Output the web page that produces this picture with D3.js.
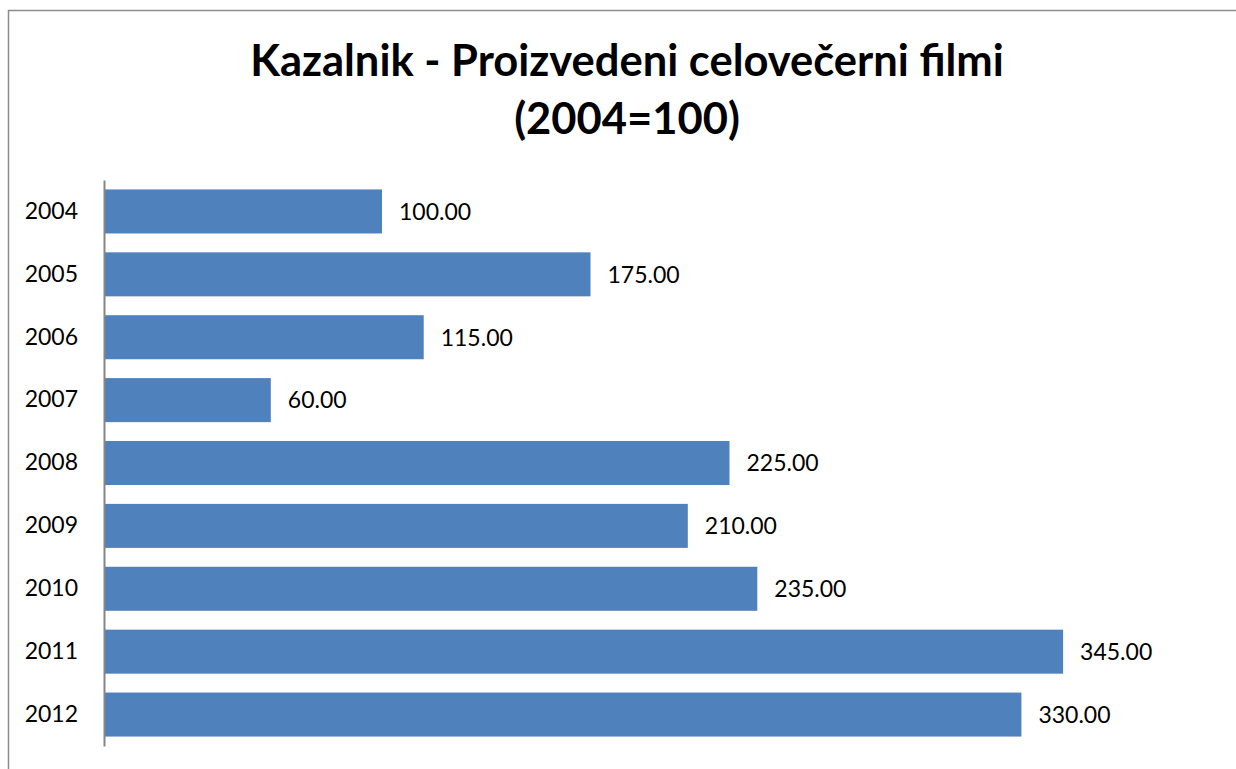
<!DOCTYPE html>
<html>
<head>
<meta charset="utf-8">
<script src="https://cdn.jsdelivr.net/npm/d3@7"></script>
<style>
  body { margin: 0; background: #fff; }
  svg { display: block; }
</style>
</head>
<body>
<svg width="1236" height="769"></svg>
<script>
// data
var years = ["2004", "2005", "2006", "2007", "2008", "2009", "2010", "2011", "2012"];
var values = [100, 175, 115, 60, 225, 210, 235, 345, 330];
var titleLines = ["Kazalnik - Proizvedeni celovečerni filmi", "(2004=100)"];

var svg = d3.select("svg");
var font = "Lato, 'Open Sans', sans-serif";

// frame (only left & top edges show in the crop)
svg.append("path")
  .attr("d", "M8.5,769 V10.5 H1236")
  .attr("fill", "none")
  .attr("stroke", "#8c8c8c")
  .attr("stroke-width", 1.5);

// title
svg.append("g")
  .selectAll("text")
  .data(titleLines)
  .enter().append("text")
  .attr("x", 627)
  .attr("y", function(d, i) { return 76 + i * 58; })
  .attr("text-anchor", "middle")
  .attr("font-family", font)
  .attr("font-weight", "bold")
  .attr("font-size", 43.5)
  .attr("fill", "#000")
  .text(function(d) { return d; });

var x = d3.scaleLinear().domain([0, 100]).range([104, 382]);
var y = d3.scaleBand().domain(years).range([180, 746]).paddingInner(0.3).paddingOuter(0.15);

var data = years.map(function(yr, i) { return {year: yr, value: values[i]}; });

// bars
svg.append("g")
  .selectAll("rect")
  .data(data)
  .enter().append("rect")
  .attr("x", x(0))
  .attr("y", function(d) { return y(d.year); })
  .attr("width", function(d) { return x(d.value) - x(0); })
  .attr("height", y.bandwidth())
  .attr("fill", "#4f81bd");

// value labels
svg.append("g")
  .selectAll("text")
  .data(data)
  .enter().append("text")
  .attr("x", function(d) { return x(d.value) + 17; })
  .attr("y", function(d) { return y(d.year) + y.bandwidth() / 2; })
  .attr("dy", "0.36em")
  .attr("font-family", font)
  .attr("font-size", 23)
  .attr("fill", "#000")
  .text(function(d) { return d.value.toFixed(2); });

// category axis
var yAxis = svg.append("g")
  .attr("transform", "translate(104,0)")
  .call(d3.axisLeft(y).tickSize(0).tickPadding(26));
yAxis.select(".domain")
  .attr("stroke", "#868686")
  .attr("stroke-width", 2);
yAxis.selectAll("text")
  .attr("font-family", font)
  .attr("font-size", 23)
  .attr("fill", "#000");
</script>
</body>
</html>
